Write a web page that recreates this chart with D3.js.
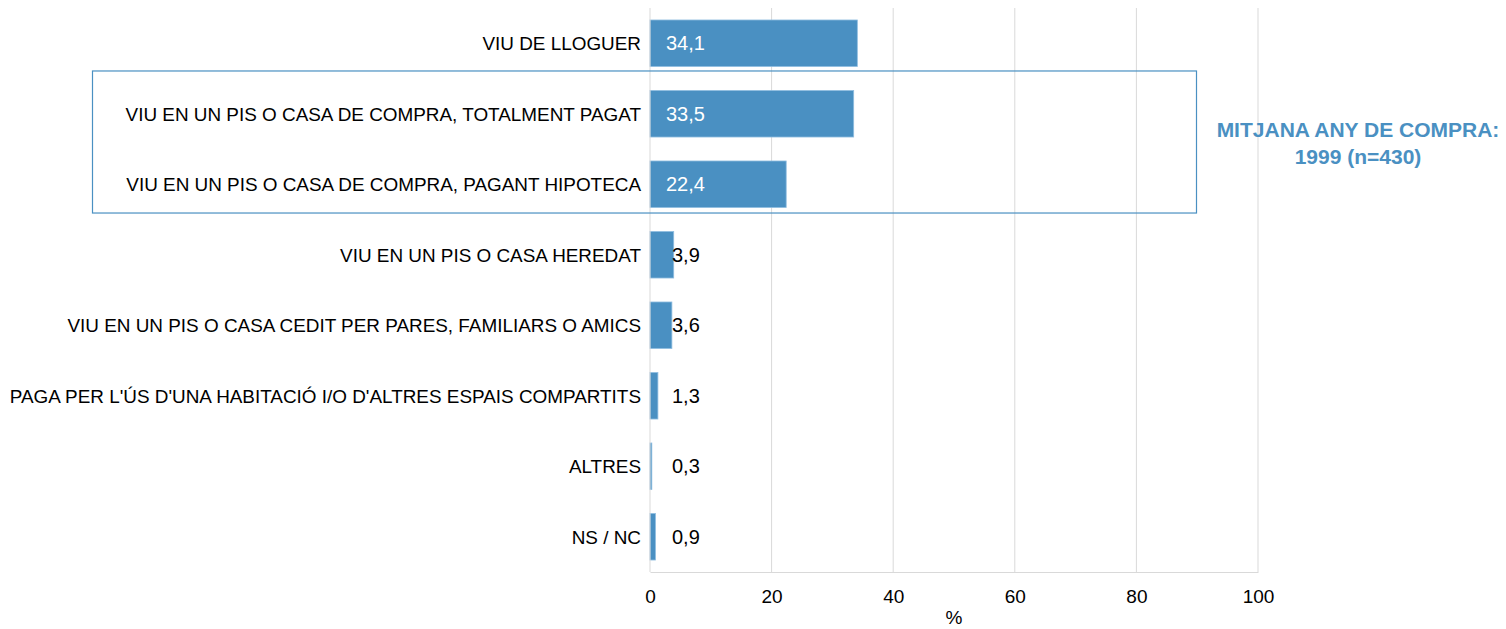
<!DOCTYPE html>
<html>
<head>
<meta charset="utf-8">
<script src="https://cdn.jsdelivr.net/npm/d3@7"></script>
<style>
  body { margin: 0; background: #fff; }
  svg { display: block; font-family: "Liberation Sans", Arial, sans-serif; }
</style>
</head>
<body>
<script>
const categories = [
  'VIU DE LLOGUER',
  'VIU EN UN PIS O CASA DE COMPRA, TOTALMENT PAGAT',
  'VIU EN UN PIS O CASA DE COMPRA, PAGANT HIPOTECA',
  'VIU EN UN PIS O CASA HEREDAT',
  'VIU EN UN PIS O CASA CEDIT PER PARES, FAMILIARS O AMICS',
  "PAGA PER L'ÚS D'UNA HABITACIÓ I/O D'ALTRES ESPAIS COMPARTITS",
  'ALTRES',
  'NS / NC'
]
const values = [34.1, 33.5, 22.4, 3.9, 3.6, 1.3, 0.3, 0.9]
const xTicks = [0, 20, 40, 60, 80, 100]
const boxed = categories.slice(1, 3)
const noteLines = ['MITJANA ANY DE COMPRA:', '1999 (n=430)']

const W = 1506, H = 629
const margin = { top: 8, left: 650, right: 248, bottom: 57 }
const blue = '#4a90c2'

const svg = d3.select('body').append('svg')
  .attr('width', W)
  .attr('height', H)

const x = d3.scaleLinear().domain([0, 100]).range([margin.left, W - margin.right])
const y = d3.scaleBand().domain(categories)
  .range([margin.top, H - margin.bottom])
  .paddingInner(0.34)
  .paddingOuter(0.17)

// grid
svg.append('g')
  .selectAll('line')
  .data(xTicks.slice(1))
  .join('line')
  .attr('x1', d => x(d)).attr('x2', d => x(d))
  .attr('y1', margin.top).attr('y2', H - margin.bottom)
  .attr('stroke', '#d9d9d9')

// bars
svg.append('g')
  .selectAll('rect')
  .data(values)
  .join('rect')
  .attr('x', x(0))
  .attr('y', (d, i) => y(categories[i]))
  .attr('width', d => x(d) - x(0))
  .attr('height', y.bandwidth())
  .attr('fill', blue)
  .attr('stroke', '#8fbde0')
  .attr('stroke-width', 0.8)

// value labels
const fmt = d => d.toFixed(1).replace('.', ',')
svg.append('g')
  .selectAll('text')
  .data(values)
  .join('text')
  .attr('x', d => d > 10 ? x(0) + 16 : x(0) + 22)
  .attr('y', (d, i) => y(categories[i]) + y.bandwidth() / 2)
  .attr('dy', '0.36em')
  .attr('font-size', 20)
  .attr('fill', d => d > 10 ? '#fff' : '#000')
  .text(fmt)

// category labels
svg.append('g')
  .selectAll('text')
  .data(categories)
  .join('text')
  .attr('x', x(0) - 9)
  .attr('y', d => y(d) + y.bandwidth() / 2)
  .attr('dy', '0.36em')
  .attr('text-anchor', 'end')
  .attr('font-size', 18.9)
  .attr('fill', '#000')
  .text(d => d)

// axis
const axis = svg.append('g')
  .attr('transform', `translate(0,${H - margin.bottom})`)
  .call(d3.axisBottom(x).tickValues(xTicks).tickSize(0).tickPadding(18))
axis.select('.domain').attr('stroke', '#d9d9d9')
axis.selectAll('text')
  .attr('font-size', 19)
  .attr('font-family', '"Liberation Sans", Arial, sans-serif')
  .attr('fill', '#000')

svg.append('line')
  .attr('x1', x(0)).attr('x2', x(0))
  .attr('y1', margin.top).attr('y2', H - margin.bottom)
  .attr('stroke', '#d9d9d9')

svg.append('text')
  .attr('x', (x(0) + x(100)) / 2)
  .attr('y', 624)
  .attr('text-anchor', 'middle')
  .attr('font-size', 19)
  .text('%')

// highlight box
const boxTop = y(boxed[0]) - 19.5
const boxBottom = y(boxed[1]) + y.bandwidth() + 5.5
svg.append('rect')
  .attr('x', 92.5)
  .attr('y', boxTop)
  .attr('width', 1104)
  .attr('height', boxBottom - boxTop)
  .attr('fill', 'none')
  .attr('stroke', blue)
  .attr('stroke-width', 1.2)

// note
svg.append('g')
  .selectAll('text')
  .data(noteLines)
  .join('text')
  .attr('x', 1358)
  .attr('y', (d, i) => 137 + i * 27)
  .attr('text-anchor', 'middle')
  .attr('font-size', 21)
  .attr('font-weight', 'bold')
  .attr('fill', blue)
  .text(d => d)
</script>
</body>
</html>
